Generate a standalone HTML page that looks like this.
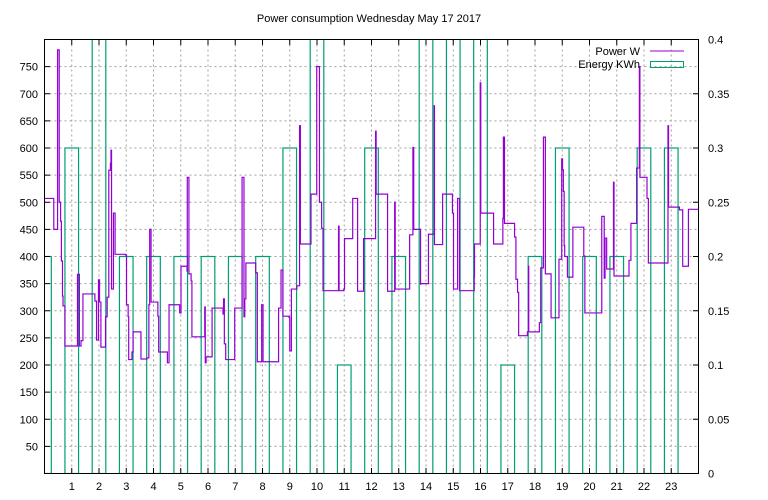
<!DOCTYPE html>
<html><head><meta charset="utf-8"><style>
body{margin:0;background:#fff;}
svg{display:block;font-family:"Liberation Sans",sans-serif;font-size:11px;}
</style></head><body>
<svg id="chart" width="768" height="500" viewBox="0 0 768 500">
<defs><clipPath id="pc"><rect x="44.5" y="39.5" width="654" height="434"/></clipPath></defs>
<text x="369" y="22" text-anchor="middle">Power consumption Wednesday May 17 2017</text>
<g id="grid"></g>
<g id="energy" clip-path="url(#pc)"></g>
<g id="power" clip-path="url(#pc)"></g>
<rect x="44.5" y="39.5" width="654" height="434" fill="none" stroke="#000" stroke-width="1"/>
<g id="axes"></g>
<g>
<text x="640" y="55" text-anchor="end">Power W</text>
<line x1="650" y1="51" x2="684" y2="51" stroke="#9400d3" stroke-width="1"/>
<text x="640" y="68" text-anchor="end">Energy KWh</text>
<rect x="650.5" y="61.5" width="33" height="6" fill="none" stroke="#009e73"/>
</g>
</svg>
<script>
const hours=[0,1,2,3,4,5,6,7,8,9,10,11,12,13,14,15,16,17,18,19,20,21,22,23];
const energyKWh=[0.2,0.3,0.5,0.2,0.2,0.2,0.2,0.2,0.2,0.3,0.5,0.1,0.3,0.2,0.5,0.5,0.5,0.1,0.2,0.3,0.2,0.2,0.3,0.3];
const powerTimes=[0,0.34,0.48,0.54,0.59,0.62,0.66,0.68,0.75,1.21,1.28,1.34,1.41,1.85,1.91,1.98,2.02,2.07,2.24,2.30,2.36,2.42,2.44,2.46,2.53,2.59,2.97,3.01,3.07,3.09,3.21,3.25,3.54,3.76,3.83,3.86,3.91,4.16,4.19,4.51,4.57,4.96,5.01,5.23,5.24,5.30,5.38,5.41,5.88,5.90,5.93,6.15,6.55,6.57,6.60,6.65,6.98,7.25,7.32,7.35,7.39,7.75,7.81,7.97,8.02,8.59,8.68,8.75,8.97,9.00,9.06,9.26,9.36,9.39,9.78,9.99,10.09,10.17,10.22,10.79,10.81,10.98,11.01,11.31,11.49,11.71,12.15,12.17,12.59,12.85,12.87,13.40,13.52,13.55,13.80,13.81,14.09,14.30,14.31,14.61,14.97,15.01,15.16,15.23,15.77,15.78,15.99,16.01,16.48,16.82,16.84,16.88,17.25,17.30,17.36,17.40,17.72,17.76,17.77,18.16,18.21,18.31,18.38,18.59,18.88,18.98,19.01,19.04,19.07,19.09,19.19,19.39,19.79,19.83,20.45,20.54,20.57,20.63,20.88,20.90,21.45,21.52,21.73,21.83,21.85,22.11,22.16,22.88,22.90,23.30,23.42,23.63];
const powerWatts=[507,450,781,500,465,392,327,309,235,367,235,245,331,318,246,357,316,233,289,325,559,572,596,340,480,404,403,311,289,210,224,261,211,213,311,450,316,290,224,204,311,296,382,373,546,368,355,252,307,204,215,305,294,322,239,210,305,546,289,322,388,370,206,311,206,305,375,290,288,226,340,346,641,423,515,750,500,452,337,456,337,340,433,507,336,433,631,515,336,500,340,440,601,450,349,350,441,678,422,515,480,340,507,337,362,423,720,480,423,470,620,461,436,358,334,254,261,382,261,278,379,620,368,287,395,580,560,520,420,400,362,454,401,296,474,360,434,377,537,364,393,461,563,750,546,507,388,641,491,486,382,487];
const leftTicks=[50,100,150,200,250,300,350,400,450,500,550,600,650,700,750];
const rightTicks=[0,0.05,0.1,0.15,0.2,0.25,0.3,0.35,0.4];
const rightLabels=["0","0.05","0.1","0.15","0.2","0.25","0.3","0.35","0.4"];
const xTicks=[1,2,3,4,5,6,7,8,9,10,11,12,13,14,15,16,17,18,19,20,21,22,23];
const NS="http://www.w3.org/2000/svg";
const X=h=>44.5+h*654/24;
const Y=w=>473.5-w*434/800;
const Y2=e=>473.5-e*434/0.4;
function mk(tag,attrs,parent){const e=document.createElementNS(NS,tag);for(const k in attrs)e.setAttribute(k,attrs[k]);parent.appendChild(e);return e;}
const grid=document.getElementById('grid'),axes=document.getElementById('axes');
leftTicks.forEach(v=>{const y=Y(v);
 const g=mk('line',{x1:44.5,x2:698.5,y1:y,y2:y,stroke:'#a0a0a0','stroke-dasharray':'2,3'},grid);
 
 
 const t=mk('text',{x:38,y:y+4,'text-anchor':'end'},axes);t.textContent=v;
 
 
 mk('line',{x1:44.5,x2:50,y1:y,y2:y,stroke:'#000'},axes);
});
rightTicks.forEach((v,i)=>{const y=Y2(v);
 const t=mk('text',{x:708,y:y+4},axes);t.textContent=rightLabels[i];
 
 
 mk('line',{x1:693,x2:698.5,y1:y,y2:y,stroke:'#000'},axes);
});
xTicks.forEach(h=>{const x=X(h);
 const g=mk('line',{x1:x,x2:x,y1:39.5,y2:473.5,stroke:'#a0a0a0','stroke-dasharray':'2,3'},grid);
 
 
 const t=mk('text',{x:x,y:490,'text-anchor':'middle'},axes);t.textContent=h;
 
 
 mk('line',{x1:x,x2:x,y1:473.5,y2:468,stroke:'#000'},axes);
 mk('line',{x1:x,x2:x,y1:39.5,y2:45,stroke:'#000'},axes);
});
const eg=document.getElementById('energy');
hours.forEach((h,i)=>{
 const x1=X(h-0.25),x2=X(h+0.25),y=Y2(energyKWh[i]);
 const r=mk('rect',{x:x1,y:y,width:x2-x1,height:473.5-y,fill:'none',stroke:'#009e73','stroke-width':1.2},eg);
 
 
});
let d='';
powerTimes.forEach((t,i)=>{
 const x=X(t),y=Y(powerWatts[i]);
 if(i===0)d+='M'+x+','+y;else d+='H'+x+'V'+y;
});
d+='H'+X(24);
const p=mk('path',{d:d,fill:'none',stroke:'#9400d3','stroke-width':1.2},document.getElementById('power'));


</script>
</body></html>
